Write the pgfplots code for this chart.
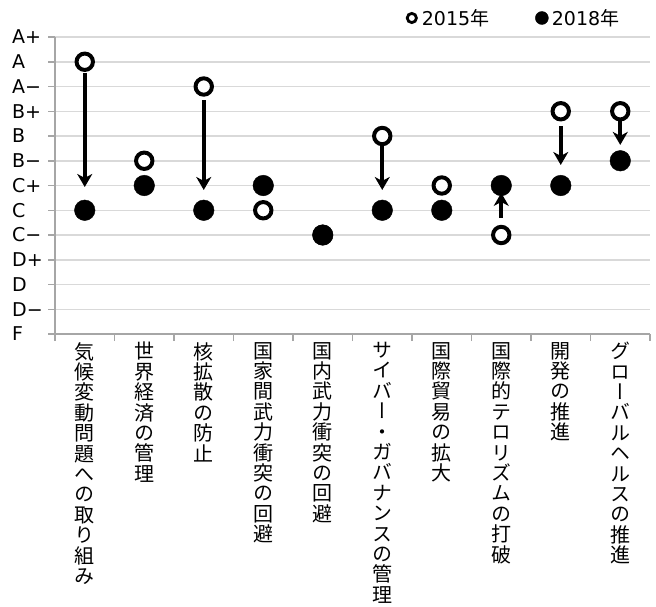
\documentclass[border=0pt]{standalone}
\usepackage{pgfplots}
\pgfplotsset{compat=1.18}
\usetikzlibrary{arrows.meta}
\usepackage{fontspec}
\setmainfont{DejaVu Sans}
\newfontfamily\cjk{Noto Sans CJK JP}
\newfontfamily\cjkv[RawFeature=+vert]{Noto Sans CJK JP}
\definecolor{axisgray}{HTML}{A6A6A6}
\definecolor{gridgray}{HTML}{D9D9D9}

\begin{document}
\begin{tikzpicture}[x=1pt,y=1pt]
\path[use as bounding box] (0,0) rectangle (656,606);
\begin{axis}[
    at={(55pt,272pt)}, anchor=south west,
    scale only axis, width=595pt, height=297pt,
    xmin=0.5, xmax=10.5, ymin=0, ymax=12,
    axis lines*=left,
    axis line style={draw=axisgray, line width=1.5pt},
    tick style={draw=axisgray, line width=1.5pt},
    tick align=outside, major tick length=7pt,
    ytick={0,...,12},
    yticklabels={F,D−,D,D+,C−,C,C+,B−,B,B+,A−,A,A+},
    yticklabel style={anchor=west, inner sep=0pt, xshift=-36pt},
    ymajorgrids, grid style={draw=gridgray, line width=1.5pt},
    xtick={0.5,1.5,...,10.5}, xticklabels={,,,,,,,,,,,},
    extra x ticks={1,...,10},
    extra x tick style={major tick length=0pt},
    extra x tick labels={
      {気\\候\\変\\動\\問\\題\\へ\\の\\取\\り\\組\\み},
      {世\\界\\経\\済\\の\\管\\理},
      {核\\拡\\散\\の\\防\\止},
      {国\\家\\間\\武\\力\\衝\\突\\の\\回\\避},
      {国\\内\\武\\力\\衝\\突\\の\\回\\避},
      {サ\\イ\\バ\\ー\\・\\ガ\\バ\\ナ\\ン\\ス\\の\\管\\理},
      {国\\際\\貿\\易\\の\\拡\\大},
      {国\\際\\的\\テ\\ロ\\リ\\ズ\\ム\\の\\打\\破},
      {開\\発\\の\\推\\進},
      {グ\\ロ\\ー\\バ\\ル\\ヘ\\ル\\ス\\の\\推\\進}},
    xticklabel style={font=\cjkv\fontsize{20}{20.4}\selectfont, align=center,
      anchor=north, inner sep=0pt, yshift=-8pt},
    tick label style={font=\fontsize{19}{23}\selectfont},
    legend columns=2,
    legend style={draw=none, fill=none, at={(0.952,1.064)}, anchor=east,
      inner sep=0pt, font=\fontsize{19}{23}\selectfont,
      /tikz/every even column/.append style={column sep=44pt}},
    clip=false,
]
\addplot[only marks, mark=*, mark size=8.2pt,
  mark options={draw=black, fill=white, line width=4pt},
  legend image code/.code={\draw[black, fill=white, line width=2.8pt] (0pt,0pt) circle (4.6pt);
    \path[draw=none, fill=none] (0pt,0pt) rectangle (8pt,0.1pt);}]
  coordinates {(1,11) (2,7) (3,10) (4,5) (5,4) (6,8) (7,6) (8,4) (9,9) (10,9)};
\addlegendentry{2015{\cjk 年}}
\addplot[only marks, mark=*, mark size=10.3pt, black,
  legend image code/.code={\fill[black] (0pt,0pt) circle (6.5pt);
    \path[draw=none, fill=none] (0pt,0pt) rectangle (8pt,0.1pt);}]
  coordinates {(1,5) (2,6) (3,5) (4,6) (5,4) (6,5) (7,5) (8,6) (9,6) (10,7)};
\addlegendentry{2018{\cjk 年}}
\addplot[forget plot, mark=none, black,
  quiver={u=\thisrow{u}, v=\thisrow{v},
    every arrow/.append style={line width=4pt,
      -{Stealth[length=13pt, width=15pt, inset=4pt]}}}]
  table {
x y u v
1 10.55 0 -4.61
3 9.45 0 -3.63
6 7.64 0 -1.82
8 4.69 0 1.01
9 8.40 0 -1.57
10 8.60 0 -0.96
};
\end{axis}
\end{tikzpicture}
\end{document}
